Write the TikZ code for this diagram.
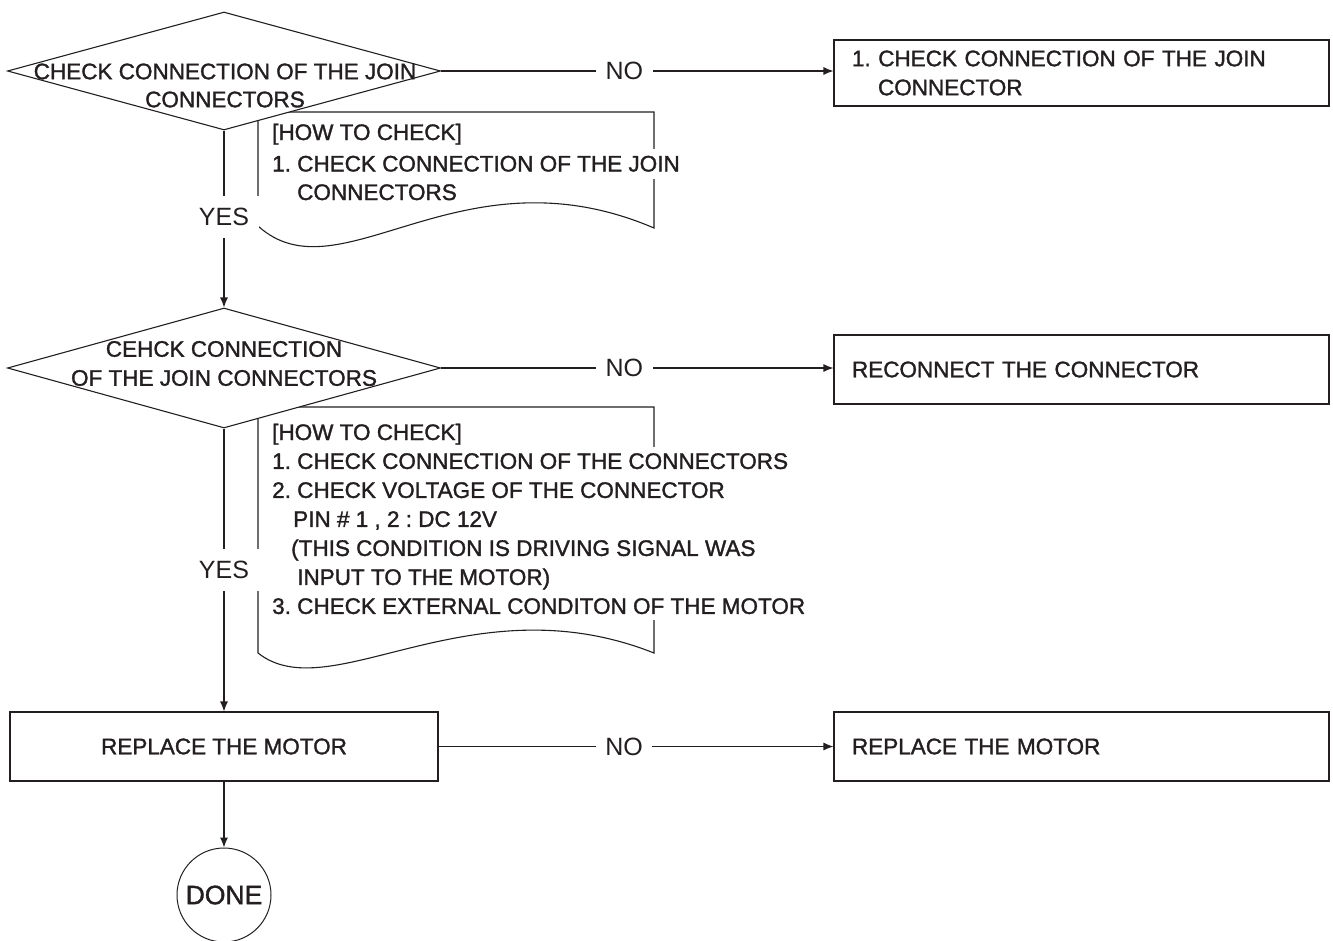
\documentclass[tikz,border=0pt]{standalone}
\usepackage{fontspec}
\setmainfont{Liberation Sans}[FakeBold=1.4]
\newfontfamily\labelfont{Liberation Sans}
\usetikzlibrary{shapes.geometric,arrows.meta}
\definecolor{ink}{HTML}{231F20}
\frenchspacing

\begin{document}
\begin{tikzpicture}[x=1pt,y=-1pt,
  every node/.style={font=\fontsize{22.5}{29}\selectfont, text=ink},
  line/.style={draw=ink, line width=1.1pt},
  arrow/.style={line, -{Latex[length=10pt,width=8pt]}},
  decision/.style={diamond, draw=ink, line width=1.1pt, fill=white,
    minimum width=433pt, inner sep=0pt},
  dtext/.style={align=center, inner sep=0pt},
  process/.style={rectangle, draw=ink, line width=1.1pt, fill=white,
    text width=459pt, inner xsep=18pt, inner ysep=0pt, align=left,
    minimum height=69pt},
  action/.style={rectangle, draw=ink, line width=1.1pt, fill=white,
    minimum width=428pt, minimum height=69pt},
  note/.style={inner sep=0pt, anchor=base west},
  noteblock/.style={fill=white, inner xsep=2pt, inner ysep=6pt, align=left,
    anchor=north west},
  yesno/.style={font=\labelfont\fontsize{25}{25}\selectfont, fill=white,
    inner xsep=9.5pt, inner ysep=12pt},
  terminal/.style={circle, draw=ink, line width=1pt, minimum size=94pt,
    inner sep=0pt, font=\fontsize{26.5}{26}\selectfont}
]
\path[use as bounding box] (0,0) rectangle (1333,940);
\clip (0,0) rectangle (1333,940);

% "how to check" note sheets, drawn first so the diamonds cover their corners
\draw[line] (258,226) -- (258,112) -- (654,112) -- (654,228)
  .. controls (460,145) and (340,300) .. (258,226);
\draw[line] (258,653) -- (258,407) -- (654,407) -- (654,653)
  .. controls (470,580) and (330,710) .. (258,653);

\node[note] (n1a) at (272,140) {[HOW TO CHECK]};
\node[note, fill=white, inner xsep=2pt, inner ysep=7pt] (n1b) at (270,171.5)
  {1. CHECK CONNECTION OF THE JOIN};
\node[note] (n1c) at (297,200) {CONNECTORS};

\node[note] (n2a) at (272,440) {[HOW TO CHECK]};
\node[noteblock] (n2b) at (270,447)
  {1. CHECK CONNECTION OF THE CONNECTORS\\
   2. CHECK VOLTAGE OF THE CONNECTOR\\
   \hspace*{21pt}PIN \# 1 , 2 : DC 12V\\
   \hspace*{19pt}(THIS CONDITION IS DRIVING SIGNAL WAS\\
   \hspace*{25pt}INPUT TO THE MOTOR)\\
   3. CHECK EXTERNAL CONDITON OF THE MOTOR};

% decisions
\node[decision, minimum height=118pt] (d1) at (224,71) {};
\node[dtext, font=\fontsize{22.5}{28}\selectfont] (t1) at (225,85.5)
  {CHECK CONNECTION OF THE JOIN\\CONNECTORS};
\node[decision, minimum height=120pt] (d2) at (224,368) {};
\node[dtext] (t2) at (224,363.5)
  {CEHCK CONNECTION\\OF THE JOIN CONNECTORS};

% actions
\node[process, minimum height=66pt] (b1) at (1081.5,73)
  {1. CHECK CONNECTION OF THE JOIN\\\hspace*{26pt}CONNECTOR};
\node[process] (b2) at (1081.5,369.5) {RECONNECT THE CONNECTOR};
\node[action] (m) at (224,746.5) {REPLACE THE MOTOR};
\node[process] (b3) at (1081.5,746.5) {REPLACE THE MOTOR};
\node[terminal] (done) at (224,895) {DONE};

% connectors
\draw[arrow] (d1.east) -- node[yesno, pos=0.467] {NO} (d1.east -| b1.west);
\draw[arrow] (d2.east) -- node[yesno, pos=0.467] {NO} (d2.east -| b2.west);
\draw[arrow] (m.east) -- node[yesno, pos=0.47] {NO} (b3.west);
\draw[arrow] (d1.south) -- node[yesno, pos=0.49] {YES} (d2.north);
\draw[arrow] (d2.south) -- node[yesno, pos=0.5] {YES} (m.north);
\draw[arrow] (m.south) -- (done.north);
\end{tikzpicture}
\end{document}
